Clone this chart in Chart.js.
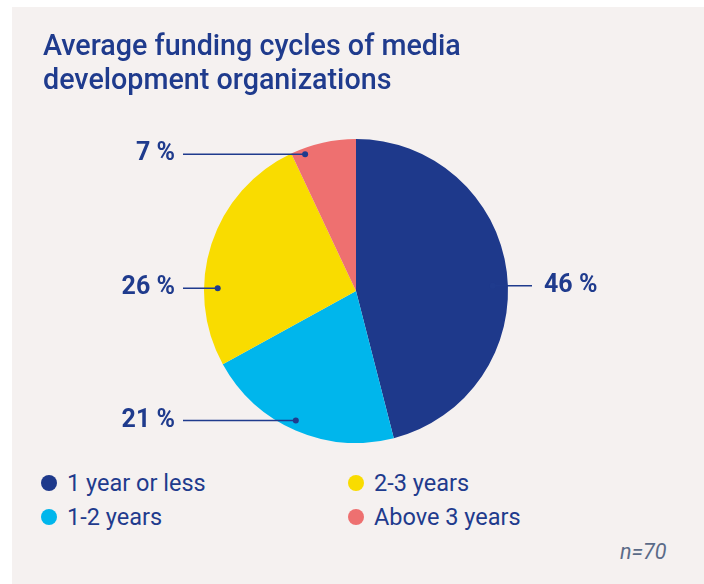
<!DOCTYPE html>
<html>
<head>
<meta charset="utf-8">
<title>Average funding cycles of media development organizations</title>
<script src="https://cdn.jsdelivr.net/npm/chart.js"></script>
<style>
  body { margin: 0; background: #ffffff; }
  #panel {
    position: absolute; left: 12px; top: 7px; width: 692px; height: 577px;
    background: #f5f1f0; font-family: Roboto, sans-serif; color: #1f3b8d;
  }
  #chartBox { position: absolute; left: 0; top: 0; width: 692px; height: 436px; }
  #legend {
    position: absolute; left: 29px; top: 459px;
    display: grid; grid-template-rows: 34px 34px; grid-auto-flow: column;
    grid-template-columns: 307px 260px;
  }
  .item { display: flex; align-items: center; font-size: 23.5px; white-space: nowrap; }
  .swatch { width: 16px; height: 16px; border-radius: 50%; margin-right: 10px; flex: none; }
  #note {
    position: absolute; left: 608px; top: 533px; line-height: 24px;
    font-size: 21.5px; font-style: italic; color: #5b6b88;
  }
</style>
</head>
<body>
<div id="panel">
  <div id="chartBox"><canvas id="fundingPie"></canvas></div>
  <div id="legend"></div>
  <div id="note">n=70</div>
</div>

<script>
  // Funding cycle shares (percent of organizations), clockwise from 12 o'clock
  const cycleLabels = ['1 year or less', '1-2 years', '2-3 years', 'Above 3 years'];
  const cycleShares = [46, 21, 26, 7];
  const cycleColors = ['#1e398b', '#00b6ec', '#f9dc00', '#ee7070'];

  // Where each value label's leader line starts inside its slice
  const leaderSide = ['right', 'left', 'left', 'left'];
  const leaderAngle = [0.53, 0.52, 0.32, 0.19];   // fraction along the slice
  const leaderRadius = [0.9, 0.94, 0.91, 0.96];   // fraction of the radius

  const ink = '#1f3b8d';

  // Draws "xx %" labels with horizontal leader lines and a dot in the slice
  const leaderLabels = {
    id: 'leaderLabels',
    afterDatasetsDraw(chart) {
      const ctx = chart.ctx;
      const arcs = chart.getDatasetMeta(0).data;
      ctx.save();
      ctx.strokeStyle = ink;
      ctx.fillStyle = ink;
      ctx.lineWidth = 1.5;
      ctx.font = 'bold 25px Roboto, sans-serif';
      ctx.textBaseline = 'middle';
      arcs.forEach((arc, i) => {
        const a = arc.startAngle + leaderAngle[i] * (arc.endAngle - arc.startAngle);
        const r = arc.outerRadius * leaderRadius[i];
        const px = arc.x + r * Math.cos(a);
        const py = arc.y + r * Math.sin(a);
        const left = leaderSide[i] === 'left';
        const endX = left ? arc.x - arc.outerRadius - 21 : arc.x + arc.outerRadius + 24;
        ctx.beginPath();
        ctx.moveTo(px, py);
        ctx.lineTo(endX, py);
        ctx.stroke();
        ctx.beginPath();
        ctx.arc(px, py, 3, 0, Math.PI * 2);
        ctx.fill();
        ctx.textAlign = left ? 'right' : 'left';
        ctx.fillText(cycleShares[i] + ' %', left ? endX - 8 : endX + 12, py);
      });
      ctx.restore();
    }
  };

  const chart = new Chart(document.getElementById('fundingPie'), {
    type: 'pie',
    data: {
      labels: cycleLabels,
      datasets: [{
        data: cycleShares,
        backgroundColor: cycleColors,
        borderWidth: 0
      }]
    },
    options: {
      responsive: true,
      maintainAspectRatio: false,
      animation: false,
      layout: { padding: { left: 31, right: 35, top: 0, bottom: 0 } },
      plugins: {
        legend: { display: false },
        tooltip: { enabled: false },
        title: {
          display: true,
          text: ['Average funding cycles of media', 'development organizations'],
          align: 'start',
          color: ink,
          font: { family: 'Roboto, sans-serif', size: 28.7, weight: '500', lineHeight: 34 / 28.7 },
          padding: { top: 24, bottom: 40 }
        }
      }
    },
    plugins: [leaderLabels]
  });

  // Two-column legend, filled column by column
  const legendEl = document.getElementById('legend');
  cycleLabels.forEach((label, i) => {
    const item = document.createElement('div');
    item.className = 'item';
    const sw = document.createElement('span');
    sw.className = 'swatch';
    sw.style.background = chart.data.datasets[0].backgroundColor[i];
    item.appendChild(sw);
    item.appendChild(document.createTextNode(label));
    legendEl.appendChild(item);
  });
</script>
</body>
</html>
